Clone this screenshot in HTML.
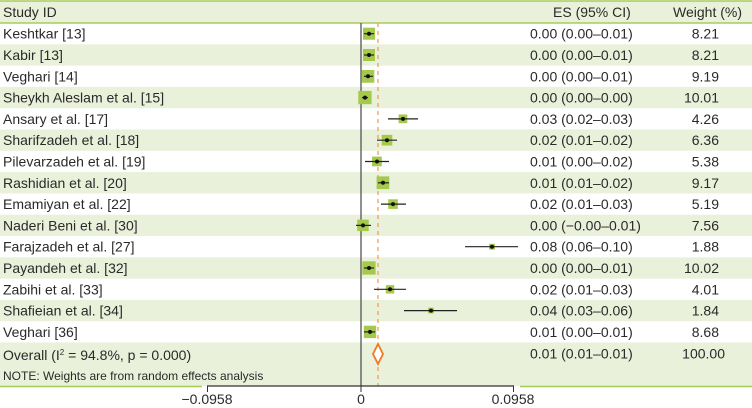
<!DOCTYPE html>
<html><head><meta charset="utf-8"><style>
html,body{margin:0;padding:0;background:#fff;}
svg{display:block;font-family:"Liberation Sans",sans-serif;}
text{fill:#2a2a2a;font-size:14px;}
</style></head><body>
<svg width="752" height="408" viewBox="0 0 752 408">
<g fill="#e9f1da">
<rect x="0" y="1" width="752" height="22"/>
<rect x="0" y="44.3" width="752" height="21.3"/>
<rect x="0" y="86.9" width="752" height="21.3"/>
<rect x="0" y="129.5" width="752" height="21.3"/>
<rect x="0" y="172.1" width="752" height="21.3"/>
<rect x="0" y="214.7" width="752" height="21.3"/>
<rect x="0" y="257.3" width="752" height="21.3"/>
<rect x="0" y="299.9" width="752" height="21.3"/>
<rect x="0" y="342.5" width="752" height="43.5"/>
</g>
<line x1="0" y1="1" x2="752" y2="1" stroke="#a8cc5a" stroke-width="1.5"/>
<line x1="0" y1="23" x2="752" y2="23" stroke="#a8cc5a" stroke-width="1.5"/>
<line x1="0" y1="386.5" x2="202" y2="386.5" stroke="#a8cc5a" stroke-width="1.5"/>
<line x1="520" y1="386.5" x2="752" y2="386.5" stroke="#a8cc5a" stroke-width="1.5"/>
<line x1="361" y1="23" x2="361" y2="386" stroke="#555" stroke-width="1.3"/>
<line x1="378" y1="23" x2="378" y2="386" stroke="#f0a060" stroke-width="1.3" stroke-dasharray="4,4"/>
<line x1="207" y1="386" x2="514" y2="386" stroke="#333" stroke-width="1.2"/>
<line x1="207.5" y1="386" x2="207.5" y2="392" stroke="#333"/>
<line x1="361" y1="386" x2="361" y2="392" stroke="#333"/>
<line x1="513.5" y1="386" x2="513.5" y2="392" stroke="#333"/>
<text x="207" y="404" text-anchor="middle">−0.0958</text>
<text x="361" y="404" text-anchor="middle">0</text>
<text x="513" y="404" text-anchor="middle">0.0958</text>
<text x="3" y="17">Study ID</text>
<text x="553" y="17">ES (95% CI)</text>
<text x="742" y="17" text-anchor="end">Weight (%)</text>
<g fill="#a5c94a">
<rect x="363" y="27.7" width="12" height="12"/>
<rect x="363" y="49" width="12" height="12"/>
<rect x="361.6" y="70" width="12.7" height="12.7"/>
<rect x="358.3" y="90.9" width="13.3" height="13.3"/>
<rect x="398.6" y="114.5" width="8.7" height="8.7"/>
<rect x="381.7" y="134.9" width="10.6" height="10.6"/>
<rect x="372.1" y="156.6" width="9.7" height="9.7"/>
<rect x="376.6" y="176.4" width="12.7" height="12.7"/>
<rect x="388.2" y="199.3" width="9.6" height="9.6"/>
<rect x="357.2" y="219.6" width="11.5" height="11.5"/>
<rect x="489.1" y="243.8" width="5.8" height="5.8"/>
<rect x="362.3" y="261.3" width="13.3" height="13.3"/>
<rect x="385.8" y="285.1" width="8.4" height="8.4"/>
<rect x="428.1" y="307.7" width="5.7" height="5.7"/>
<rect x="363.8" y="325.7" width="12.4" height="12.4"/>
</g>
<g stroke="#222" stroke-width="1.2">
<line x1="364" y1="33.7" x2="374" y2="33.7"/>
<line x1="364" y1="55" x2="374" y2="55"/>
<line x1="364" y1="76.3" x2="373" y2="76.3"/>
<line x1="362" y1="97.6" x2="368" y2="97.6"/>
<line x1="388" y1="118.9" x2="418" y2="118.9"/>
<line x1="377" y1="140.2" x2="397" y2="140.2"/>
<line x1="365" y1="161.5" x2="389" y2="161.5"/>
<line x1="378" y1="182.8" x2="389" y2="182.8"/>
<line x1="381" y1="204.1" x2="406" y2="204.1"/>
<line x1="356" y1="225.4" x2="371" y2="225.4"/>
<line x1="465" y1="246.7" x2="518" y2="246.7"/>
<line x1="364" y1="268" x2="374" y2="268"/>
<line x1="374" y1="289.3" x2="406" y2="289.3"/>
<line x1="404" y1="310.6" x2="457" y2="310.6"/>
<line x1="364" y1="331.9" x2="375" y2="331.9"/>
</g>
<g fill="#111">
<circle cx="369" cy="33.7" r="2"/><circle cx="369" cy="55" r="2"/><circle cx="368" cy="76.3" r="2"/>
<circle cx="365" cy="97.6" r="2"/><circle cx="403" cy="118.9" r="2"/><circle cx="387" cy="140.2" r="2"/>
<circle cx="377" cy="161.5" r="2"/><circle cx="383" cy="182.8" r="2"/><circle cx="393" cy="204.1" r="2"/>
<circle cx="363" cy="225.4" r="2"/><circle cx="492" cy="246.7" r="2"/><circle cx="369" cy="268" r="2"/>
<circle cx="390" cy="289.3" r="2"/><circle cx="431" cy="310.6" r="2"/><circle cx="370" cy="331.9" r="2"/>
</g>
<polygon points="378,344 383,354 378,364 373,354" fill="#fff" stroke="#f07820" stroke-width="1.8"/>
<g>
<text x="3" y="38.7">Keshtkar [13]</text>
<text x="3" y="60">Kabir [13]</text>
<text x="3" y="81.3">Veghari [14]</text>
<text x="3" y="102.6">Sheykh Aleslam et al. [15]</text>
<text x="3" y="123.9">Ansary et al. [17]</text>
<text x="3" y="145.2">Sharifzadeh et al. [18]</text>
<text x="3" y="166.5">Pilevarzadeh et al. [19]</text>
<text x="3" y="187.8">Rashidian et al. [20]</text>
<text x="3" y="209.1">Emamiyan et al. [22]</text>
<text x="3" y="230.4">Naderi Beni et al. [30]</text>
<text x="3" y="251.7">Farajzadeh et al. [27]</text>
<text x="3" y="273">Payandeh et al. [32]</text>
<text x="3" y="294.3">Zabihi et al. [33]</text>
<text x="3" y="315.6">Shafieian et al. [34]</text>
<text x="3" y="336.9">Veghari [36]</text>
<text x="3" y="360">Overall (I<tspan font-size="8" dy="-5">2</tspan><tspan dy="5"> = 94.8%, p = 0.000)</tspan></text>
<text x="3" y="380" style="font-size:12px">NOTE: Weights are from random effects analysis</text>
</g>
<g>
<text x="530" y="38.7">0.00 (0.00–0.01)</text>
<text x="530" y="60">0.00 (0.00–0.01)</text>
<text x="530" y="81.3">0.00 (0.00–0.01)</text>
<text x="530" y="102.6">0.00 (0.00–0.00)</text>
<text x="530" y="123.9">0.03 (0.02–0.03)</text>
<text x="530" y="145.2">0.02 (0.01–0.02)</text>
<text x="530" y="166.5">0.01 (0.00–0.02)</text>
<text x="530" y="187.8">0.01 (0.01–0.02)</text>
<text x="530" y="209.1">0.02 (0.01–0.03)</text>
<text x="530" y="230.4">0.00 (−0.00–0.01)</text>
<text x="530" y="251.7">0.08 (0.06–0.10)</text>
<text x="530" y="273">0.00 (0.00–0.01)</text>
<text x="530" y="294.3">0.02 (0.01–0.03)</text>
<text x="530" y="315.6">0.04 (0.03–0.06)</text>
<text x="530" y="336.9">0.01 (0.00–0.01)</text>
<text x="530" y="358.5">0.01 (0.01–0.01)</text>
</g>
<g text-anchor="end">
<text x="719" y="38.7">8.21</text>
<text x="719" y="60">8.21</text>
<text x="719" y="81.3">9.19</text>
<text x="719" y="102.6">10.01</text>
<text x="719" y="123.9">4.26</text>
<text x="719" y="145.2">6.36</text>
<text x="719" y="166.5">5.38</text>
<text x="719" y="187.8">9.17</text>
<text x="719" y="209.1">5.19</text>
<text x="719" y="230.4">7.56</text>
<text x="719" y="251.7">1.88</text>
<text x="719" y="273">10.02</text>
<text x="719" y="294.3">4.01</text>
<text x="719" y="315.6">1.84</text>
<text x="719" y="336.9">8.68</text>
<text x="725" y="358.5">100.00</text>
</g>
</svg>
</body></html>
